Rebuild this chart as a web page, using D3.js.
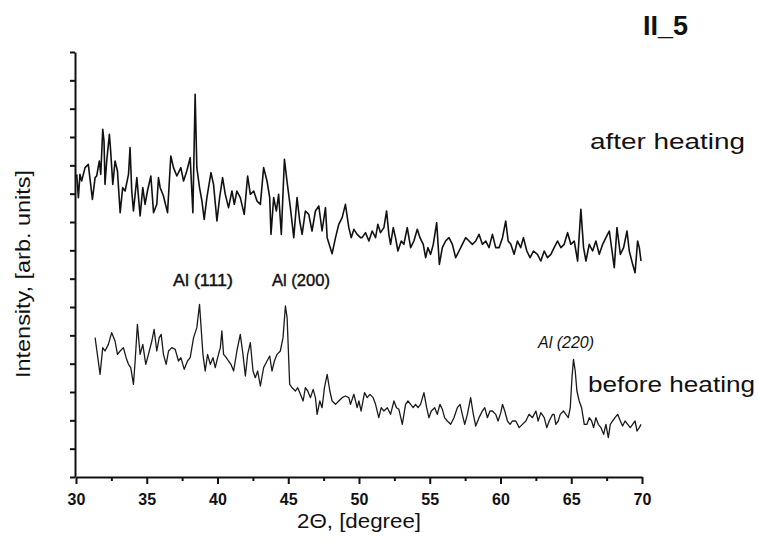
<!DOCTYPE html>
<html>
<head>
<meta charset="utf-8">
<script src="https://cdn.jsdelivr.net/npm/d3@7"></script>
<style>
  html, body { margin: 0; padding: 0; background: #ffffff; }
  svg { display: block; }
  text { font-family: "Liberation Sans", Arial, Helvetica, sans-serif; fill: #111; }
</style>
</head>
<body>
<svg id="chart" width="758" height="546"></svg>
<script>
// XRD patterns of sample II_5, 2θ in degrees vs. intensity (arbitrary units)
const afterAngle = [30.05,30.17,30.28,30.40,30.64,30.87,31.16,31.35,31.46,31.65,31.75,31.89,31.98,32.05,32.17,32.36,32.45,32.60,32.76,32.93,33.12,33.30,33.47,33.71,33.82,33.94,34.06,34.30,34.53,34.72,34.88,35.05,35.29,35.48,35.71,35.83,35.95,36.18,36.47,36.70,36.89,37.13,37.41,37.60,37.83,38.07,38.26,38.42,38.54,38.73,38.90,39.06,39.25,39.54,39.72,39.96,40.15,40.36,40.55,40.78,41.02,41.19,41.37,41.61,41.89,42.13,42.32,42.56,42.79,43.03,43.26,43.50,43.69,43.78,43.97,44.16,44.32,44.51,44.73,44.91,45.15,45.39,45.62,45.81,45.98,46.21,46.45,46.68,46.92,47.16,47.39,47.63,47.75,48.10,48.34,48.57,48.81,49.04,49.28,49.45,49.64,49.87,50.11,50.22,50.46,50.70,50.93,51.17,51.33,51.52,51.76,51.95,52.11,52.23,52.42,52.58,52.75,52.99,53.17,53.41,53.65,53.88,54.12,54.31,54.54,54.71,54.87,55.06,55.25,55.49,55.68,55.89,56.12,56.36,56.60,56.83,57.07,57.30,57.54,57.78,58.01,58.25,58.48,58.72,58.96,59.19,59.43,59.66,59.90,60.14,60.37,60.54,60.73,60.96,61.20,61.43,61.62,61.86,62.09,62.33,62.61,62.85,63.09,63.32,63.56,63.79,64.03,64.27,64.50,64.74,64.97,65.21,65.45,65.68,65.87,66.04,66.27,66.51,66.74,66.98,67.22,67.45,67.69,67.85,68.04,68.23,68.47,68.70,68.94,69.10,69.34,69.51,69.69,69.81,69.93];
const afterCounts = [908,838,908,888,928,938,833,898,903,948,908,1043,1008,878,948,1028,978,878,948,918,793,868,858,908,988,858,798,898,783,868,818,858,903,793,818,898,868,843,793,963,928,903,928,888,918,958,793,1148,928,868,828,773,838,913,878,768,838,898,848,808,858,818,858,838,788,903,848,858,828,818,928,888,838,728,838,798,848,728,953,888,808,718,838,768,728,798,788,738,798,813,738,808,718,670,718,758,778,818,748,718,743,728,718,718,733,708,738,718,758,733,748,798,728,698,748,718,678,708,698,748,688,708,743,718,698,658,688,668,698,763,638,688,708,718,698,658,678,698,718,708,698,708,728,698,708,688,728,688,688,718,768,708,698,668,708,688,718,678,658,678,668,648,678,658,668,688,708,688,698,733,698,708,648,803,688,648,698,678,708,668,698,718,738,688,628,748,668,688,738,678,638,613,708,688,648];

const beforeAngle = [31.35,31.51,31.70,31.89,32.05,32.29,32.52,32.76,32.93,33.12,33.35,33.54,33.71,33.87,34.06,34.18,34.34,34.53,34.72,34.93,35.12,35.36,35.52,35.71,35.88,36.02,36.18,36.37,36.54,36.77,37.01,37.24,37.41,37.65,37.88,38.07,38.31,38.54,38.73,38.97,39.13,39.30,39.49,39.68,39.84,40.01,40.20,40.31,40.43,40.62,40.78,40.95,41.14,41.37,41.61,41.80,41.97,42.13,42.32,42.51,42.67,42.84,43.03,43.26,43.50,43.69,43.85,44.02,44.21,44.44,44.63,44.80,44.92,45.10,45.27,45.51,45.67,45.86,46.05,46.21,46.38,46.57,46.76,46.92,47.04,47.23,47.39,47.56,47.75,47.94,48.10,48.34,48.57,48.81,49.04,49.28,49.40,49.64,49.87,49.99,50.15,50.39,50.58,50.77,51.00,51.17,51.40,51.57,51.76,52.00,52.23,52.47,52.65,52.82,53.06,53.29,53.46,53.65,53.83,54.00,54.17,54.35,54.59,54.78,54.94,55.11,55.35,55.53,55.72,55.89,56.05,56.24,56.48,56.71,56.95,57.14,57.30,57.47,57.66,57.89,58.08,58.25,58.48,58.72,58.89,59.07,59.26,59.43,59.66,59.83,60.02,60.14,60.30,60.49,60.68,60.84,61.08,61.32,61.55,61.79,62.02,62.26,62.50,62.66,62.85,63.09,63.27,63.44,63.68,63.79,63.91,64.08,64.22,64.45,64.62,64.79,64.93,65.05,65.16,65.28,65.40,65.56,65.73,65.92,66.11,66.27,66.44,66.58,66.74,66.91,67.10,67.29,67.45,67.62,67.76,67.92,68.09,68.28,68.47,68.63,68.80,68.99,69.17,69.34,69.51,69.65,69.81,69.93];
const beforeCounts = [418,368,308,388,378,398,433,408,368,378,388,358,338,328,278,348,458,368,398,338,368,408,443,378,418,428,368,338,378,388,383,348,358,323,348,358,418,448,518,368,318,368,338,358,328,358,388,438,368,358,348,338,318,378,428,368,303,368,403,318,298,318,273,328,348,363,318,348,368,378,418,513,478,278,268,258,268,248,228,268,258,238,263,238,188,228,208,268,308,258,228,218,228,238,243,238,218,248,208,228,198,253,238,248,238,218,178,208,198,208,188,228,208,203,158,218,228,218,208,218,208,218,253,208,178,198,208,188,218,203,178,168,158,178,208,218,188,158,188,238,188,153,178,198,208,178,198,198,188,168,193,218,198,168,158,168,168,148,158,168,188,178,198,168,193,178,148,168,188,188,158,168,188,198,188,178,208,298,353,318,258,228,208,158,158,178,168,148,178,158,148,128,158,118,158,168,178,188,168,153,168,158,148,158,168,138,148,158];

// Axis ticks
const xMajorTicks = [30, 35, 40, 45, 50, 55, 60, 65, 70];
const xMinorTicks = [32.5, 37.5, 42.5, 47.5, 52.5, 57.5, 62.5, 67.5];
const yTickStep = 85;
const yMax = 1275;

// Reflection labels and series labels
const peakNames = ["Al (111)", "Al (200)", "Al (220)"];
const seriesNames = ["after heating", "before heating"];

const svg = d3.select("#chart");
svg.append("rect").attr("width", 758).attr("height", 546).attr("fill", "#ffffff");

const x = d3.scaleLinear().domain([30, 70]).range([76, 642]);
const y = d3.scaleLinear().domain([0, yMax]).range([477, 52]);

// Minor x ticks
const xMinor = svg.append("g")
  .attr("transform", "translate(0,477)")
  .call(d3.axisBottom(x).tickValues(xMinorTicks).tickSize(4).tickSizeOuter(0).tickFormat(""));
xMinor.select(".domain").remove();
xMinor.selectAll("line").attr("stroke", "#111").attr("stroke-width", 2);

// Major x ticks with labels
const xAxis = svg.append("g")
  .attr("transform", "translate(0,477)")
  .call(d3.axisBottom(x).tickValues(xMajorTicks).tickSize(7).tickSizeOuter(0).tickPadding(9.5).tickFormat(d3.format("d")));
xAxis.select(".domain").attr("stroke", "#111").attr("stroke-width", 2);
xAxis.selectAll("line").attr("stroke", "#111").attr("stroke-width", 2);
xAxis.selectAll("text")
  .attr("font-size", 16)
  .attr("font-weight", "bold")
  .attr("font-family", "'Liberation Sans', Arial, sans-serif")
  .attr("fill", "#111");

// Y axis with unlabeled ticks
const yAxis = svg.append("g")
  .attr("transform", "translate(75,0)")
  .call(d3.axisLeft(y).tickValues(d3.range(0, yMax + 1, yTickStep)).tickSize(5).tickSizeOuter(0).tickFormat(""));
yAxis.select(".domain").attr("stroke", "#111").attr("stroke-width", 2);
yAxis.selectAll("line").attr("stroke", "#111").attr("stroke-width", 2);

// Diffraction traces
const line = d3.line().x(d => x(d[0])).y(d => y(d[1])).curve(d3.curveLinear);
const afterData = d3.zip(afterAngle, afterCounts);
const beforeData = d3.zip(beforeAngle, beforeCounts);

svg.append("path")
  .datum(afterData)
  .attr("d", line)
  .attr("fill", "none")
  .attr("stroke", "#111")
  .attr("stroke-width", 1.6)
  .attr("stroke-linejoin", "round");

svg.append("path")
  .datum(beforeData)
  .attr("d", line)
  .attr("fill", "none")
  .attr("stroke", "#1a1a1a")
  .attr("stroke-width", 1.3)
  .attr("stroke-linejoin", "round");

// Title
svg.append("text")
  .attr("x", 688).attr("y", 35)
  .attr("text-anchor", "end")
  .attr("font-size", 27)
  .attr("font-weight", "bold")
  .text("II_5");

// Series labels
svg.append("text")
  .attr("x", 590).attr("y", 149)
  .attr("font-size", 22)
  .attr("textLength", 155).attr("lengthAdjust", "spacingAndGlyphs")
  .text(seriesNames[0]);

svg.append("text")
  .attr("x", 588).attr("y", 392)
  .attr("font-size", 22)
  .attr("textLength", 167).attr("lengthAdjust", "spacingAndGlyphs")
  .text(seriesNames[1]);

// Reflection labels
svg.append("text")
  .attr("x", 173).attr("y", 286)
  .attr("font-size", 16)
  .attr("stroke", "#111").attr("stroke-width", 0.4)
  .attr("textLength", 60).attr("lengthAdjust", "spacingAndGlyphs")
  .text(peakNames[0]);

svg.append("text")
  .attr("x", 272).attr("y", 286)
  .attr("font-size", 16)
  .attr("stroke", "#111").attr("stroke-width", 0.4)
  .attr("textLength", 58).attr("lengthAdjust", "spacingAndGlyphs")
  .text(peakNames[1]);

svg.append("text")
  .attr("x", 538).attr("y", 348)
  .attr("font-size", 17)
  .attr("font-style", "italic")
  .attr("font-family", "'DejaVu Sans', sans-serif")
  .attr("font-weight", 300)
  .attr("textLength", 56).attr("lengthAdjust", "spacingAndGlyphs")
  .text(peakNames[2]);

// Axis titles
svg.append("text")
  .attr("transform", "translate(30,274) rotate(-90)")
  .attr("text-anchor", "middle")
  .attr("font-size", 20)
  .attr("textLength", 208).attr("lengthAdjust", "spacingAndGlyphs")
  .text("Intensity, [arb. units]");

svg.append("text")
  .attr("x", 297).attr("y", 528)
  .attr("font-size", 20)
  .attr("textLength", 124).attr("lengthAdjust", "spacingAndGlyphs")
  .text("2Θ, [degree]");
</script>
</body>
</html>
